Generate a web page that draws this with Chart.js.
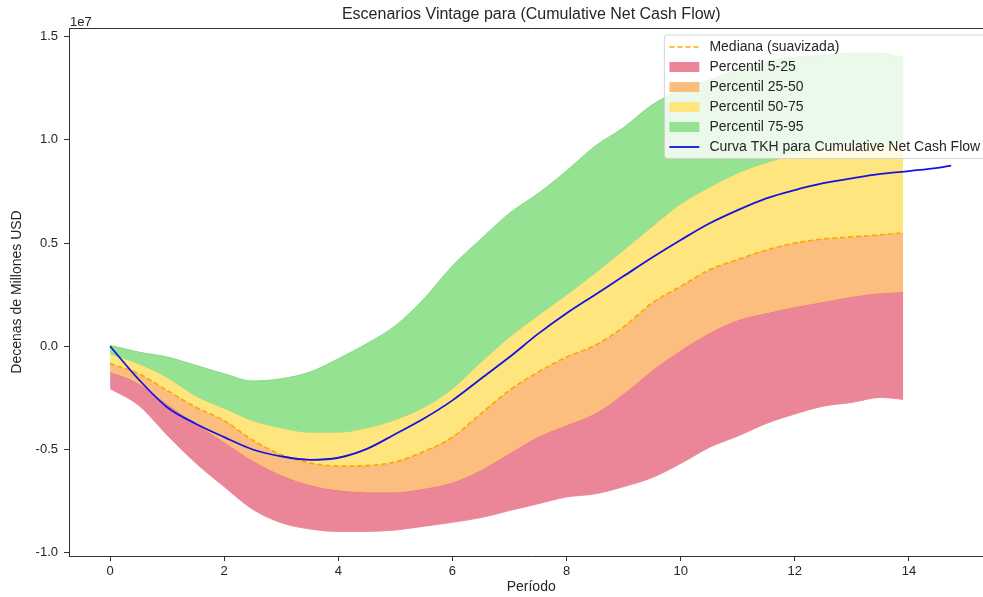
<!DOCTYPE html>
<html>
<head>
<meta charset="utf-8">
<title>Escenarios Vintage</title>
<script src="https://cdn.jsdelivr.net/npm/chart.js@4.4.1/dist/chart.umd.min.js"></script>
<style>
  html, body { margin: 0; padding: 0; background: #fff; overflow: hidden; }
  #wrap { position: relative; width: 1000px; height: 597px; }
</style>
</head>
<body>
<div id="wrap"><canvas id="chart" width="1000" height="597"></canvas></div>
<script>
// Periods (years) at which the simulated percentiles are sampled
const PERIODS = [0, 0.5, 1, 1.5, 2, 2.5, 3, 3.5, 4, 4.5, 5, 5.5, 6, 6.5, 7, 7.5, 8, 8.5, 9, 9.5,
                 10, 10.5, 11, 11.5, 12, 12.5, 13, 13.5, 13.9];

// Percentiles of cumulative net cash flow, millions of USD
const P5  = [-2.05, -2.86, -4.3, -5.65, -6.8, -7.9, -8.55, -8.85, -8.97, -8.97,
             -8.9, -8.72, -8.53, -8.3, -7.96, -7.63, -7.3, -7.15, -6.8, -6.36,
             -5.68, -4.9, -4.35, -3.74, -3.28, -2.9, -2.72, -2.48, -2.57];
const P25 = [-1.25, -1.8, -2.8, -3.75, -4.65, -5.55, -6.25, -6.72, -6.98, -7.07,
             -7.07, -6.9, -6.6, -6.0, -5.2, -4.4, -3.83, -3.26, -2.3, -1.17,
             -0.2, 0.63, 1.26, 1.6, 1.9, 2.15, 2.4, 2.57, 2.64];
const P50 = [-0.84, -1.33, -2.14, -2.95, -3.6, -4.55, -5.25, -5.65, -5.8, -5.78,
             -5.6, -5.1, -4.4, -3.26, -2.13, -1.25, -0.52, 0.05, 0.94, 2.1,
             2.9, 3.7, 4.2, 4.66, 5.0, 5.2, 5.3, 5.4, 5.5];
const P75 = [-0.36, -0.84, -1.5, -2.4, -3.0, -3.6, -3.95, -4.16, -4.16, -3.95,
             -3.55, -2.95, -2.05, -0.76, 0.45, 1.5, 2.5, 3.55, 4.66, 5.8,
             6.9, 7.7, 8.4, 8.9, 9.3, 9.6, 9.75, 9.85, 9.9];
const P95 = [0.05, -0.28, -0.52, -0.92, -1.33, -1.68, -1.57, -1.25, -0.6, 0.13,
             1.0, 2.3, 3.9, 5.2, 6.45, 7.4, 8.5, 9.7, 10.6, 11.7,
             12.4, 12.9, 13.4, 13.8, 14.0, 14.1, 14.2, 14.2, 14.0];

// TKH reference curve, millions of USD
const TKH_PERIODS = [0, 0.5, 1, 1.5, 2, 2.5, 3, 3.5, 4, 4.5, 5, 5.5, 6, 6.5, 7, 7.5, 8, 8.5, 9, 9.5,
                     10, 10.5, 11, 11.5, 12, 12.5, 13, 13.5, 14, 14.5, 14.74];
const TKH = [0, -1.6, -2.95, -3.75, -4.4, -5.0, -5.33, -5.5, -5.4, -4.97,
             -4.25, -3.5, -2.62, -1.57, -0.52, 0.6, 1.6, 2.5, 3.4, 4.3,
             5.15, 5.95, 6.6, 7.17, 7.57, 7.9, 8.14, 8.35, 8.49, 8.64, 8.75];

// Axis ticks
const X_TICKS = [0, 2, 4, 6, 8, 10, 12, 14];
const Y_TICKS = [-1.0, -0.5, 0.0, 0.5, 1.0, 1.5];   // in units of 1e7 USD

const MILLION = 1e6;
const EXP = 1e7;
const FONT = "'Liberation Sans', Arial, Helvetica, sans-serif";
const TEXT = '#262626';
const AXIS = '#333333';

const RED    = 'rgb(235,134,152)';
const ORANGE = 'rgb(252,190,126)';
const YELLOW = 'rgb(254,229,125)';
const GREEN  = 'rgb(149,226,147)';
const MEDIAN = 'rgb(255,165,0)';
const BLUE   = 'rgb(20,20,225)';

const pts = (xs, ys) => xs.map((x, i) => ({ x: x, y: ys[i] * MILLION }));

const bandBase = {
  pointRadius: 0,
  pointHoverRadius: 0,
  cubicInterpolationMode: 'monotone',
  borderWidth: 1
};

const datasets = [
  Object.assign({}, bandBase, { label: 'p5', data: pts(PERIODS, P5),
    borderColor: 'rgba(225,95,120,0.7)', fill: false, order: 10 }),
  Object.assign({}, bandBase, { label: 'Percentil 5-25', data: pts(PERIODS, P25),
    borderColor: 'rgba(240,120,80,0.8)', backgroundColor: RED, fill: '-1', order: 9 }),
  Object.assign({}, bandBase, { label: 'Percentil 25-50', data: pts(PERIODS, P50),
    borderColor: 'rgba(250,175,100,0.9)', backgroundColor: ORANGE, fill: '-1', order: 8 }),
  Object.assign({}, bandBase, { label: 'Percentil 50-75', data: pts(PERIODS, P75),
    borderColor: 'rgba(150,215,120,0.9)', backgroundColor: YELLOW, fill: '-1', order: 7 }),
  Object.assign({}, bandBase, { label: 'Percentil 75-95', data: pts(PERIODS, P95),
    borderColor: 'rgba(130,215,130,0.9)', backgroundColor: GREEN, fill: '-1', order: 6 }),
  { label: 'Mediana (suavizada)', data: pts(PERIODS, P50), borderColor: MEDIAN,
    borderDash: [5, 3], borderWidth: 1.6, pointRadius: 0, fill: false,
    cubicInterpolationMode: 'monotone', order: 1 },
  { label: 'Curva TKH para Cumulative Net Cash Flow', data: pts(TKH_PERIODS, TKH),
    borderColor: BLUE, borderWidth: 1.8, pointRadius: 0, fill: false,
    cubicInterpolationMode: 'monotone', order: 0 }
];

// Legend entries: line handles or filled patches
const LEGEND = [
  { text: 'Mediana (suavizada)', kind: 'line', color: MEDIAN, dash: [5, 3], width: 1.6 },
  { text: 'Percentil 5-25', kind: 'patch', color: RED },
  { text: 'Percentil 25-50', kind: 'patch', color: ORANGE },
  { text: 'Percentil 50-75', kind: 'patch', color: YELLOW },
  { text: 'Percentil 75-95', kind: 'patch', color: GREEN },
  { text: 'Curva TKH para Cumulative Net Cash Flow', kind: 'line', color: BLUE, dash: [], width: 1.8 }
];

// Top spine, exponent label and framed legend drawn over the plot
const decorations = {
  id: 'decorations',
  afterDatasetsDraw(chart) {
    const ctx = chart.ctx;
    const a = chart.chartArea;
    ctx.save();

    // frame top / right
    ctx.strokeStyle = AXIS;
    ctx.lineWidth = 1;
    ctx.beginPath();
    ctx.moveTo(a.left, Math.round(a.top) + 0.5);
    ctx.lineTo(a.right, Math.round(a.top) + 0.5);
    ctx.lineTo(a.right, a.bottom);
    ctx.stroke();

    // legend
    const w = 323, h = 123.5, r = 3;
    const x0 = a.right - 6 - w, y0 = a.top + 7;
    ctx.beginPath();
    ctx.moveTo(x0 + r, y0);
    ctx.lineTo(x0 + w - r, y0);
    ctx.quadraticCurveTo(x0 + w, y0, x0 + w, y0 + r);
    ctx.lineTo(x0 + w, y0 + h - r);
    ctx.quadraticCurveTo(x0 + w, y0 + h, x0 + w - r, y0 + h);
    ctx.lineTo(x0 + r, y0 + h);
    ctx.quadraticCurveTo(x0, y0 + h, x0, y0 + h - r);
    ctx.lineTo(x0, y0 + r);
    ctx.quadraticCurveTo(x0, y0, x0 + r, y0);
    ctx.closePath();
    ctx.fillStyle = 'rgba(255,255,255,0.8)';
    ctx.fill();
    ctx.strokeStyle = 'rgba(204,204,204,0.8)';
    ctx.stroke();

    ctx.font = '14px ' + FONT;
    ctx.textBaseline = 'middle';
    ctx.textAlign = 'left';
    LEGEND.forEach((item, i) => {
      const cy = y0 + 12 + i * 20;
      if (item.kind === 'line') {
        ctx.save();
        ctx.strokeStyle = item.color;
        ctx.lineWidth = item.width;
        ctx.setLineDash(item.dash);
        ctx.beginPath();
        ctx.moveTo(x0 + 5, cy);
        ctx.lineTo(x0 + 35, cy);
        ctx.stroke();
        ctx.restore();
      } else {
        ctx.fillStyle = item.color;
        ctx.fillRect(x0 + 5, cy - 5, 30, 10);
      }
      ctx.fillStyle = TEXT;
      ctx.fillText(item.text, x0 + 45, cy + 0.5);
    });
    ctx.restore();
  },
  afterDraw(chart) {
    const ctx = chart.ctx;
    const a = chart.chartArea;
    ctx.save();
    ctx.font = '13px ' + FONT;
    ctx.fillStyle = TEXT;
    ctx.textAlign = 'left';
    ctx.textBaseline = 'alphabetic';
    ctx.fillText('1e7', a.left + 1, a.top - 2);
    ctx.restore();
  }
};

new Chart(document.getElementById('chart'), {
  type: 'line',
  data: { datasets: datasets },
  plugins: [decorations],
  options: {
    responsive: false,
    animation: false,
    devicePixelRatio: 1,
    layout: { padding: { left: 0, right: 6.6, top: 0, bottom: 0 } },
    plugins: {
      legend: { display: false },
      tooltip: { enabled: false },
      title: {
        display: true,
        fullSize: false,
        text: 'Escenarios Vintage para (Cumulative Net Cash Flow)',
        color: TEXT,
        font: { family: FONT, size: 16, weight: 'normal', lineHeight: 1.2 },
        padding: { top: 5, bottom: 3.8 }
      }
    },
    scales: {
      x: {
        type: 'linear',
        min: -0.72,
        max: 15.48,
        afterBuildTicks: s => { s.ticks = X_TICKS.map(v => ({ value: v })); },
        afterFit: s => { s.height = 41; },
        ticks: {
          color: TEXT, padding: 3, maxRotation: 0, autoSkip: false,
          font: { family: FONT, size: 13 },
          callback: v => String(v)
        },
        grid: { display: true, drawOnChartArea: false, drawTicks: true, tickLength: 5,
                color: AXIS, tickColor: AXIS, tickWidth: 1 },
        border: { display: true, color: AXIS, width: 1 },
        title: { display: true, text: 'Período', color: TEXT,
                 font: { family: FONT, size: 14 }, padding: { top: 0, bottom: 1 } }
      },
      y: {
        type: 'linear',
        min: -1.016 * EXP,
        max: 1.542 * EXP,
        afterBuildTicks: s => { s.ticks = Y_TICKS.map(v => ({ value: v * EXP })); },
        afterFit: s => { s.width = 69; },
        ticks: {
          color: TEXT, padding: 6, autoSkip: false,
          font: { family: FONT, size: 13 },
          callback: v => (v / EXP).toFixed(1)
        },
        grid: { display: true, drawOnChartArea: false, drawTicks: true, tickLength: 5,
                color: AXIS, tickColor: AXIS, tickWidth: 1 },
        border: { display: true, color: AXIS, width: 1 },
        title: { display: true, text: 'Decenas de Millones USD', color: TEXT,
                 font: { family: FONT, size: 14 }, padding: { top: 8.6, bottom: 0 } }
      }
    }
  }
});
</script>
</body>
</html>
